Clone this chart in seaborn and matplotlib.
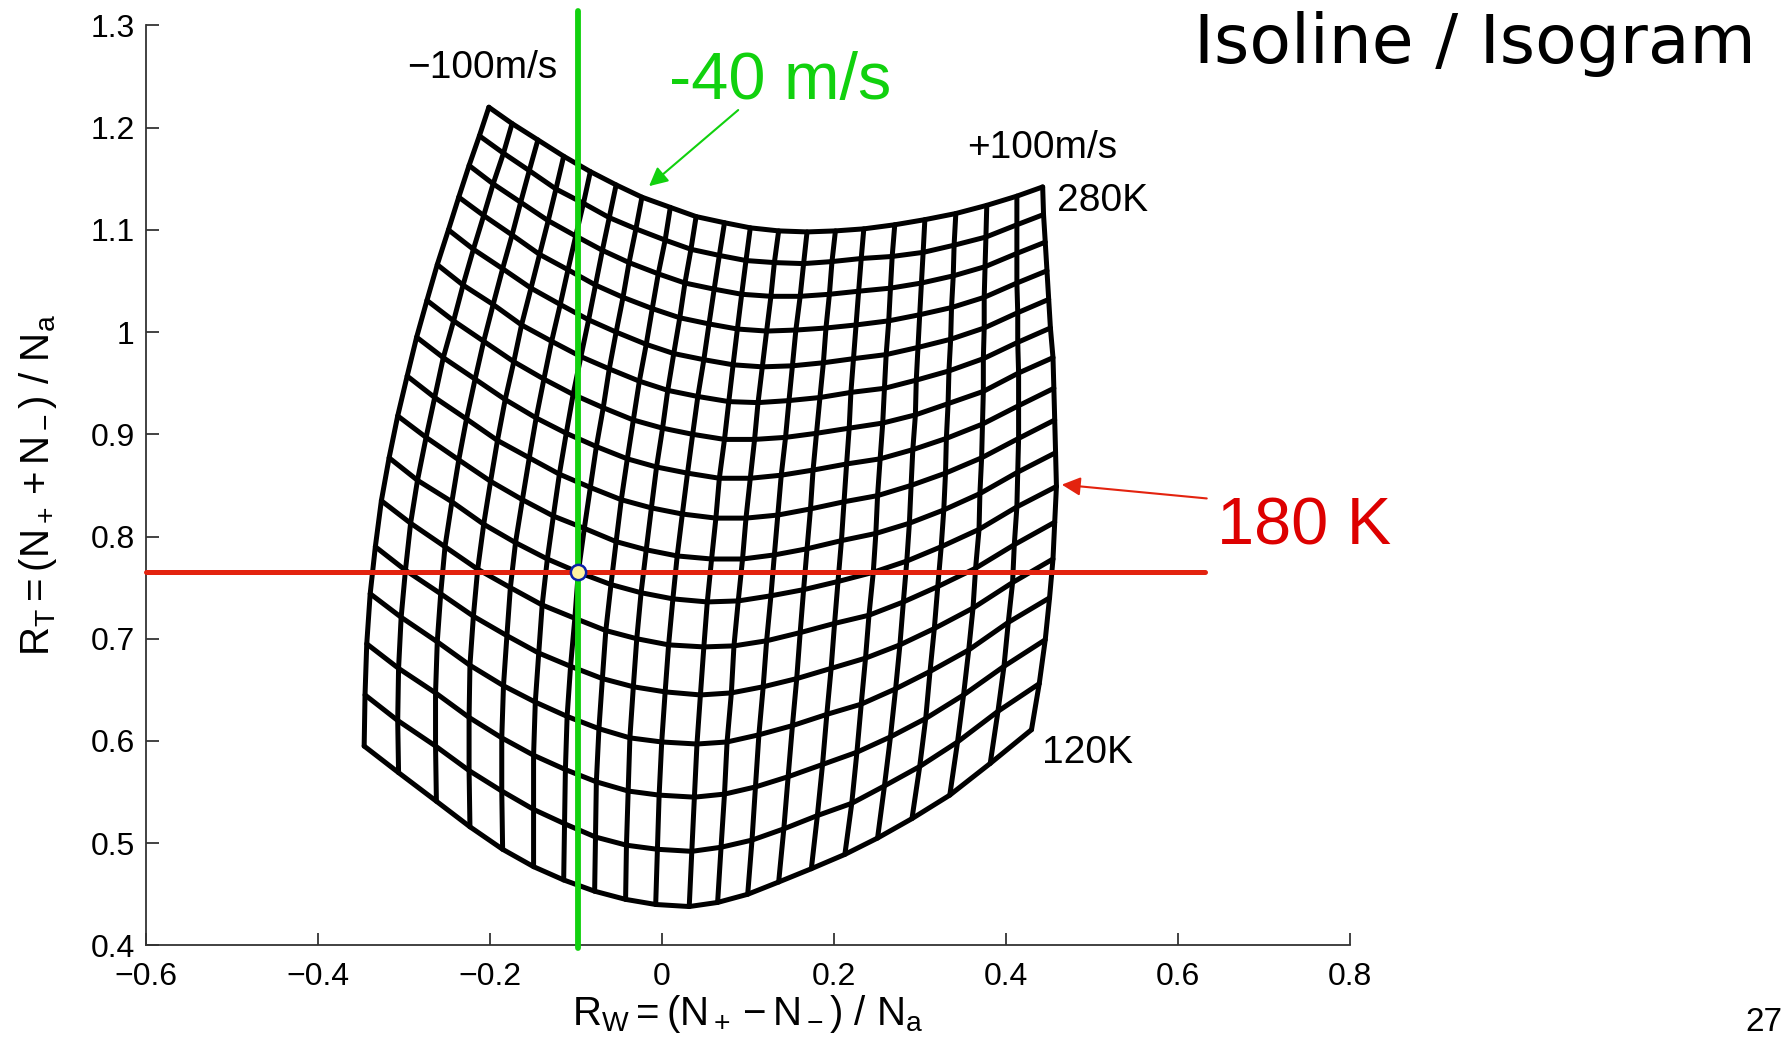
import numpy as np
import pandas as pd
import seaborn as sns
import matplotlib.pyplot as plt

# Temperature isolines (K) and wind isolines (m/s)
temps = [120, 130, 140, 150, 160, 170, 180, 190, 200, 210, 220, 230, 240, 250, 260, 270, 280]
winds = [-100, -90, -80, -70, -60, -50, -40, -30, -20, -10, 0, 10, 20, 30, 40, 50, 60, 70, 80, 90, 100]

# R_T of each temperature curve, read at the 21 wind nodes (-100 ... +100 m/s)
rt_120 = [.595, .569, .541, .516, .494, .477, .464, .453, .445, .440, .438, .442, .450, .462, .475, .489, .505, .524, .547, .578, .611]
rt_130 = [.645, .620, .595, .571, .551, .533, .519, .506, .498, .494, .492, .496, .503, .514, .527, .539, .556, .575, .599, .629, .656]
rt_140 = [.695, .671, .647, .623, .603, .586, .572, .560, .551, .547, .545, .548, .555, .565, .577, .589, .604, .622, .645, .673, .699]
rt_150 = [.744, .721, .697, .674, .654, .638, .624, .612, .603, .599, .597, .599, .606, .615, .626, .636, .651, .668, .689, .716, .740]
rt_160 = [.790, .767, .744, .722, .703, .686, .673, .661, .653, .648, .645, .647, .653, .661, .671, .681, .694, .710, .730, .755, .778]
rt_170 = [.835, .813, .790, .768, .750, .733, .720, .708, .700, .694, .692, .693, .698, .706, .715, .723, .736, .751, .769, .792, .814]
rt_180 = [.877, .855, .834, .812, .794, .778, .765, .753, .745, .739, .736, .737, .742, .748, .756, .765, .776, .790, .807, .829, .849]
rt_190 = [.918, .897, .875, .854, .836, .820, .808, .795, .787, .781, .778, .778, .782, .788, .796, .803, .813, .826, .842, .863, .882]
rt_200 = [.957, .936, .915, .894, .877, .861, .848, .836, .828, .822, .818, .818, .821, .827, .834, .840, .850, .862, .877, .896, .914]
rt_210 = [.995, .975, .954, .934, .916, .901, .888, .876, .868, .862, .857, .857, .860, .865, .871, .876, .885, .896, .910, .928, .945]
rt_220 = [1.031, 1.011, .991, .971, .954, .939, .926, .914, .906, .900, .895, .895, .897, .901, .906, .911, .919, .930, .942, .960, .975]
rt_230 = [1.066, 1.046, 1.027, 1.007, .991, .976, .964, .952, .943, .937, .932, .931, .933, .936, .941, .945, .953, .962, .974, .990, 1.004]
rt_240 = [1.100, 1.081, 1.062, 1.043, 1.027, 1.012, 1.000, .988, .979, .973, .968, .966, .967, .970, .974, .978, .985, .993, 1.004, 1.019, 1.032]
rt_250 = [1.132, 1.114, 1.095, 1.076, 1.061, 1.046, 1.034, 1.023, 1.014, 1.008, 1.003, 1.001, 1.002, 1.004, 1.007, 1.011, 1.017, 1.024, 1.034, 1.048, 1.060]
rt_260 = [1.163, 1.145, 1.127, 1.109, 1.094, 1.080, 1.068, 1.057, 1.048, 1.042, 1.037, 1.035, 1.035, 1.037, 1.040, 1.043, 1.048, 1.055, 1.064, 1.077, 1.088]
rt_270 = [1.192, 1.175, 1.158, 1.140, 1.126, 1.112, 1.101, 1.090, 1.081, 1.075, 1.070, 1.068, 1.067, 1.069, 1.072, 1.074, 1.078, 1.085, 1.093, 1.105, 1.115]
rt_280 = [1.220, 1.204, 1.188, 1.172, 1.157, 1.144, 1.132, 1.122, 1.113, 1.107, 1.102, 1.099, 1.098, 1.099, 1.101, 1.105, 1.110, 1.116, 1.124, 1.133, 1.142]

# R_W of each wind line, read at the 17 temperature nodes (120 ... 280 K)
rw_m100 = [-.346, -.345, -.343, -.339, -.333, -.326, -.317, -.307, -.296, -.285, -.273, -.261, -.248, -.236, -.224, -.212, -.201]
rw_m90 = [-.306, -.307, -.306, -.303, -.298, -.292, -.284, -.274, -.264, -.254, -.242, -.231, -.219, -.207, -.196, -.184, -.174]
rw_m80 = [-.262, -.263, -.263, -.261, -.257, -.252, -.244, -.236, -.227, -.217, -.207, -.196, -.185, -.174, -.164, -.154, -.144]
rw_m70 = [-.223, -.224, -.224, -.223, -.219, -.214, -.207, -.199, -.191, -.182, -.172, -.163, -.152, -.142, -.132, -.123, -.114]
rw_m60 = [-.185, -.186, -.186, -.184, -.180, -.176, -.170, -.162, -.154, -.146, -.137, -.128, -.118, -.109, -.100, -.091, -.083]
rw_m50 = [-.149, -.149, -.149, -.147, -.143, -.139, -.133, -.126, -.119, -.111, -.103, -.094, -.085, -.077, -.069, -.061, -.053]
rw_m40 = [-.114, -.113, -.112, -.110, -.106, -.101, -.097, -.090, -.083, -.076, -.068, -.061, -.053, -.045, -.038, -.030, -.023]
rw_m30 = [-.078, -.077, -.076, -.073, -.069, -.065, -.059, -.053, -.047, -.040, -.033, -.026, -.018, -.011, -.004, .004, .010]
rw_m20 = [-.042, -.041, -.039, -.037, -.033, -.029, -.024, -.018, -.012, -.006, .001, .007, .014, .021, .027, .034, .040]
rw_m10 = [-.007, -.005, -.003, .000, .004, .008, .013, .018, .024, .030, .036, .042, .049, .055, .061, .067, .073]
rw_0 = [.032, .035, .038, .041, .045, .049, .053, .058, .063, .067, .073, .078, .083, .088, .093, .098, .103]
rw_p10 = [.065, .069, .073, .076, .081, .084, .089, .094, .098, .103, .108, .112, .117, .122, .127, .131, .136]
rw_p20 = [.100, .105, .109, .113, .118, .122, .127, .131, .135, .139, .144, .148, .152, .156, .161, .165, .169]
rw_p30 = [.136, .142, .147, .152, .157, .161, .165, .169, .173, .176, .180, .184, .188, .191, .195, .198, .202]
rw_p40 = [.174, .181, .187, .192, .197, .201, .205, .209, .212, .215, .218, .220, .223, .226, .229, .232, .235]
rw_p50 = [.213, .221, .227, .232, .237, .241, .246, .249, .251, .254, .257, .259, .261, .264, .266, .268, .271]
rw_p60 = [.251, .259, .266, .272, .277, .281, .285, .288, .290, .292, .295, .296, .298, .300, .302, .304, .306]
rw_p70 = [.291, .300, .307, .312, .317, .321, .325, .328, .330, .331, .333, .334, .336, .337, .339, .340, .342]
rw_p80 = [.335, .344, .351, .357, .362, .365, .369, .370, .372, .373, .374, .374, .375, .375, .376, .377, .378]
rw_p90 = [.382, .391, .398, .403, .408, .410, .413, .414, .415, .415, .415, .414, .414, .413, .413, .413, .413]
rw_p100 = [.430, .439, .446, .451, .455, .457, .459, .458, .457, .456, .455, .452, .450, .448, .446, .444, .443]

xticks = [-0.6, -0.4, -0.2, 0, 0.2, 0.4, 0.6, 0.8]
xtick_labels = ['\u22120.6', '\u22120.4', '\u22120.2', '0', '0.2', '0.4', '0.6', '0.8']
yticks = [0.4, 0.5, 0.6, 0.7, 0.8, 0.9, 1.0, 1.1, 1.2, 1.3]
ytick_labels = ['0.4', '0.5', '0.6', '0.7', '0.8', '0.9', '1', '1.1', '1.2', '1.3']

# Build long table of grid nodes
rt_rows = [rt_120, rt_130, rt_140, rt_150, rt_160, rt_170, rt_180, rt_190, rt_200,
           rt_210, rt_220, rt_230, rt_240, rt_250, rt_260, rt_270, rt_280]
rw_cols = [rw_m100, rw_m90, rw_m80, rw_m70, rw_m60, rw_m50, rw_m40, rw_m30, rw_m20, rw_m10, rw_0,
           rw_p10, rw_p20, rw_p30, rw_p40, rw_p50, rw_p60, rw_p70, rw_p80, rw_p90, rw_p100]
records = []
for i, T in enumerate(temps):
    for j, W in enumerate(winds):
        records.append({'T': T, 'W': W, 'R_W': rw_cols[j][i], 'R_T': rt_rows[i][j]})
nodes = pd.DataFrame(records)

sns.set_theme(style='ticks')
plt.rcParams['font.family'] = ['Liberation Sans', 'DejaVu Sans']
plt.rcParams['mathtext.fontset'] = 'custom'
plt.rcParams['mathtext.rm'] = 'Liberation Sans'
plt.rcParams['mathtext.it'] = 'Liberation Sans:italic'
plt.rcParams['mathtext.bf'] = 'Liberation Sans:bold'
plt.rcParams['text.color'] = 'black'
plt.rcParams['axes.labelcolor'] = 'black'
plt.rcParams['xtick.color'] = 'black'
plt.rcParams['ytick.color'] = 'black'

fig = plt.figure(figsize=(17.86, 10.43), dpi=100)
ax = fig.add_axes([0.0816, 0.0936, 0.6741, 0.882])

# Temperature isolines, then wind isolines
sns.lineplot(data=nodes.sort_values(['T', 'W']), x='R_W', y='R_T', units='T', estimator=None,
             sort=False, color='black', lw=3.6, ax=ax, legend=False)
sns.lineplot(data=nodes.sort_values(['W', 'T']), x='R_W', y='R_T', units='W', estimator=None,
             sort=False, color='black', lw=3.6, ax=ax, legend=False)

# Measured point: -40 m/s, 180 K
pt = nodes[(nodes['T'] == 180) & (nodes['W'] == -40)].iloc[0]
ax.plot([-0.6, 0.632], [pt['R_T'], pt['R_T']], color='#e3230f', lw=3.6, clip_on=False, zorder=5)
ax.plot([pt['R_W'], pt['R_W']], [0.397, 1.314], color='#11d10e', lw=4.2, clip_on=False, zorder=6)
ax.plot(pt['R_W'], pt['R_T'], 'o', ms=11, mfc='#fff2a0', mec='#0a1fa8', mew=1.8, zorder=7)

# Annotations
ax.text(-0.209, 1.258, '\u2212100m/s', fontsize=28, ha='center', va='center')
ax.text(0.442, 1.180, '+100m/s', fontsize=28, ha='center', va='center')
ax.text(0.460, 1.128, '280K', fontsize=28, ha='left', va='center')
ax.text(0.442, 0.588, '120K', fontsize=28, ha='left', va='center')
ax.text(0.1374, 1.245, '-40 m/s', fontsize=48, color='#11d10e', ha='center', va='center')
ax.annotate('', xy=(-0.0172, 1.141), xytext=(0.0914, 1.219),
            arrowprops=dict(arrowstyle='-|>', color='#11d10e', lw=1.5, mutation_scale=28))
ax.text(0.7468, 0.809, '180 K', fontsize=48, color='#dd0000', ha='center', va='center', clip_on=False)
ax.annotate('', xy=(0.462, 0.851), xytext=(0.637, 0.837),
            arrowprops=dict(arrowstyle='-|>', color='#e3230f', lw=1.5, mutation_scale=28),
            annotation_clip=False)

# Axes styling
ax.set_xlim(-0.6, 0.8)
ax.set_ylim(0.4, 1.3)
ax.set_xticks(xticks)
ax.set_xticklabels(xtick_labels)
ax.set_yticks(yticks)
ax.set_yticklabels(ytick_labels)
ax.tick_params(direction='in', length=9, width=1.2, labelsize=23, colors='#222222', labelcolor='black')
ax.tick_params(axis='x', pad=12)
ax.tick_params(axis='y', pad=8)
sns.despine(ax=ax)
for s in ['left', 'bottom']:
    ax.spines[s].set_color('#333333')
    ax.spines[s].set_linewidth(1.3)

ax.set_xlabel(r'$\mathrm{R_W = (N_+ - N_-)\ /\ N_a}$', fontsize=29)
ax.set_ylabel(r'$\mathrm{R_T = (N_+ + N_-)\ /\ N_a}$', fontsize=29)
ax.xaxis.set_label_coords(0.5, -0.052)
ax.yaxis.set_label_coords(-0.072, 0.5)

fig.text(0.6685, 0.940, 'Isoline / Isogram', fontsize=49, family='DejaVu Sans', ha='left', va='baseline')
fig.text(0.998, 0.0115, '27', fontsize=24, ha='right', va='baseline')

fig.savefig('out.png', dpi=100)
